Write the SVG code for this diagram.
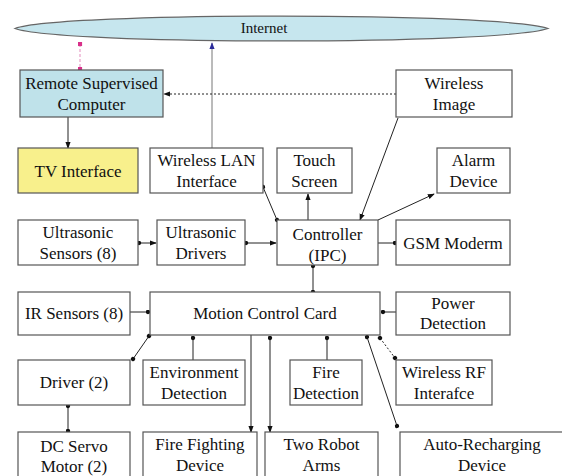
<svg xmlns="http://www.w3.org/2000/svg" width="562" height="476" viewBox="0 0 562 476" font-family="Liberation Serif, DejaVu Serif, serif">
<style>
.b{fill:#fff;stroke:#555;stroke-width:1.2}
.t{font-size:17px;fill:#111;text-anchor:middle}
.c{stroke:#222;stroke-width:1;fill:none}
</style>
<defs>
<marker id="ar" viewBox="0 0 8 8" refX="7" refY="4" markerWidth="7" markerHeight="7" orient="auto-start-reverse" markerUnits="userSpaceOnUse"><path d="M0,1 L8,4 L0,7 Z" fill="#111"/></marker>
<marker id="dt" viewBox="0 0 6 6" refX="3" refY="3" markerWidth="5" markerHeight="5" orient="auto" markerUnits="userSpaceOnUse"><circle cx="3" cy="3" r="2.6" fill="#111"/></marker>
<marker id="ab" viewBox="0 0 8 8" refX="7" refY="4" markerWidth="7" markerHeight="7" orient="auto" markerUnits="userSpaceOnUse"><path d="M0,1 L8,4 L0,7 Z" fill="#2a2a9a"/></marker>
<marker id="pk" viewBox="0 0 6 6" refX="3" refY="3" markerWidth="5" markerHeight="5" orient="auto" markerUnits="userSpaceOnUse"><rect x="0.5" y="0.5" width="5" height="5" fill="#d8308a"/></marker>
</defs>
<rect width="562" height="476" fill="#fff"/>
<g id="connectors">
<line x1="80" y1="44" x2="80" y2="69" stroke="#e8a0c8" stroke-width="1.2" stroke-dasharray="3,2" marker-start="url(#pk)" marker-end="url(#pk)"/>
<line x1="212" y1="150" x2="212" y2="43" stroke="#777" stroke-width="1" marker-end="url(#ab)"/>
<line x1="396" y1="94" x2="164" y2="94" class="c" stroke-dasharray="2,2" marker-end="url(#ar)"/>
<line x1="68" y1="117" x2="68" y2="148" class="c" marker-end="url(#ar)"/>
<line x1="398" y1="118" x2="360" y2="220" class="c" marker-end="url(#ar)"/>
<line x1="263" y1="187" x2="277" y2="220" class="c" marker-start="url(#dt)" marker-end="url(#dt)"/>
<line x1="308" y1="220" x2="308" y2="194" class="c" marker-end="url(#ar)"/>
<line x1="378" y1="220" x2="434" y2="194" class="c" marker-end="url(#ar)"/>
<line x1="139" y1="243" x2="156" y2="243" class="c" marker-start="url(#dt)" marker-end="url(#ar)"/>
<line x1="246" y1="243" x2="276" y2="243" class="c" marker-start="url(#dt)" marker-end="url(#ar)"/>
<line x1="378" y1="243" x2="395" y2="243" class="c" marker-end="url(#dt)"/>
<line x1="313" y1="266" x2="313" y2="292" class="c" marker-start="url(#dt)" marker-end="url(#dt)"/>
<line x1="130" y1="312" x2="148" y2="312" class="c" marker-end="url(#dt)"/>
<line x1="396" y1="312" x2="383" y2="312" class="c" marker-end="url(#dt)"/>
<line x1="149" y1="336" x2="133" y2="359" class="c" marker-start="url(#dt)" marker-end="url(#dt)"/>
<line x1="193" y1="360" x2="193" y2="338" class="c" marker-end="url(#dt)"/>
<line x1="251" y1="335" x2="251" y2="432" class="c" marker-end="url(#ar)"/>
<line x1="270" y1="338" x2="270" y2="432" class="c" marker-start="url(#dt)" marker-end="url(#ar)"/>
<line x1="327" y1="360" x2="327" y2="338" class="c" marker-end="url(#dt)"/>
<line x1="367" y1="337" x2="397" y2="426" class="c" marker-start="url(#dt)" marker-end="url(#dt)"/>
<line x1="380" y1="338" x2="395" y2="358" class="c" stroke-dasharray="2,2" marker-start="url(#dt)" marker-end="url(#dt)"/>
<line x1="68" y1="406" x2="68" y2="431" class="c" marker-start="url(#dt)" marker-end="url(#dt)"/>
</g>
<g id="internet">
<path d="M15,28.5 C60,12 500,12 548,28.5 C500,45 60,45 15,28.5 Z" fill="#c6e6ee" stroke="#666" stroke-width="1.2"/>
<text x="264" y="33" class="t" style="font-size:15px">Internet</text>
</g>
<g id="remote">
<rect x="20" y="70" width="143" height="47" fill="#bfe2ea" stroke="#555" stroke-width="1.2"/>
<text x="91.5" y="89" class="t">Remote Supervised</text>
<text x="91.5" y="110" class="t">Computer</text>
</g>
<g id="wireless-image">
<rect x="396" y="70" width="116" height="47" class="b"/>
<text x="454" y="89" class="t">Wireless</text>
<text x="454" y="110" class="t">Image</text>
</g>
<g id="tv">
<rect x="18" y="148" width="120" height="45" fill="#f8f08c" stroke="#555" stroke-width="1.2"/>
<text x="78" y="177" class="t">TV Interface</text>
</g>
<g id="wlan">
<rect x="150" y="148" width="113" height="45" class="b"/>
<text x="206.5" y="166" class="t">Wireless LAN</text>
<text x="206.5" y="187" class="t">Interface</text>
</g>
<g id="touch">
<rect x="277" y="148" width="75" height="45" class="b"/>
<text x="314.5" y="166" class="t">Touch</text>
<text x="314.5" y="187" class="t">Screen</text>
</g>
<g id="alarm">
<rect x="437" y="148" width="73" height="45" class="b"/>
<text x="473.5" y="166" class="t">Alarm</text>
<text x="473.5" y="187" class="t">Device</text>
</g>
<g id="us-sensors">
<rect x="18" y="220" width="120" height="45" class="b"/>
<text x="78" y="238" class="t">Ultrasonic</text>
<text x="78" y="259" class="t">Sensors (8)</text>
</g>
<g id="us-drivers">
<rect x="157" y="220" width="88" height="45" class="b"/>
<text x="201" y="238" class="t">Ultrasonic</text>
<text x="201" y="259" class="t">Drivers</text>
</g>
<g id="controller">
<rect x="277" y="220" width="101" height="45" class="b"/>
<text x="327.5" y="240" class="t">Controller</text>
<text x="327.5" y="261" class="t">(IPC)</text>
</g>
<g id="gsm">
<rect x="396" y="220" width="114" height="45" class="b"/>
<text x="453" y="249" class="t">GSM Moderm</text>
</g>
<g id="ir">
<rect x="18" y="292" width="112" height="43" class="b"/>
<text x="74" y="319" class="t">IR Sensors (8)</text>
</g>
<g id="mcc">
<rect x="150" y="292" width="230" height="43" class="b"/>
<text x="265" y="319" class="t">Motion Control Card</text>
</g>
<g id="power">
<rect x="396" y="292" width="114" height="43" class="b"/>
<text x="453" y="309" class="t">Power</text>
<text x="453" y="329" class="t">Detection</text>
</g>
<g id="driver">
<rect x="18" y="360" width="112" height="45" class="b"/>
<text x="74" y="388" class="t">Driver (2)</text>
</g>
<g id="env">
<rect x="143" y="360" width="102" height="45" class="b"/>
<text x="194" y="378" class="t">Environment</text>
<text x="194" y="399" class="t">Detection</text>
</g>
<g id="fire-det">
<rect x="290" y="360" width="72" height="45" class="b"/>
<text x="326" y="378" class="t">Fire</text>
<text x="326" y="399" class="t">Detection</text>
</g>
<g id="rf">
<rect x="396" y="360" width="96" height="45" class="b"/>
<text x="444" y="378" class="t">Wireless RF</text>
<text x="444" y="399" class="t">Interafce</text>
</g>
<g id="servo">
<rect x="18" y="432" width="112" height="50" class="b"/>
<text x="74" y="452" class="t">DC Servo</text>
<text x="74" y="472" class="t">Motor (2)</text>
</g>
<g id="fire-fight">
<rect x="143" y="432" width="114" height="50" class="b"/>
<text x="200" y="450" class="t">Fire Fighting</text>
<text x="200" y="471" class="t">Device</text>
</g>
<g id="arms">
<rect x="265" y="432" width="113" height="50" class="b"/>
<text x="321.5" y="450" class="t">Two Robot</text>
<text x="321.5" y="471" class="t">Arms</text>
</g>
<g id="recharge">
<rect x="400" y="432" width="170" height="50" class="b"/>
<text x="482" y="450" class="t">Auto-Recharging</text>
<text x="482" y="471" class="t">Device</text>
</g>
</svg>
